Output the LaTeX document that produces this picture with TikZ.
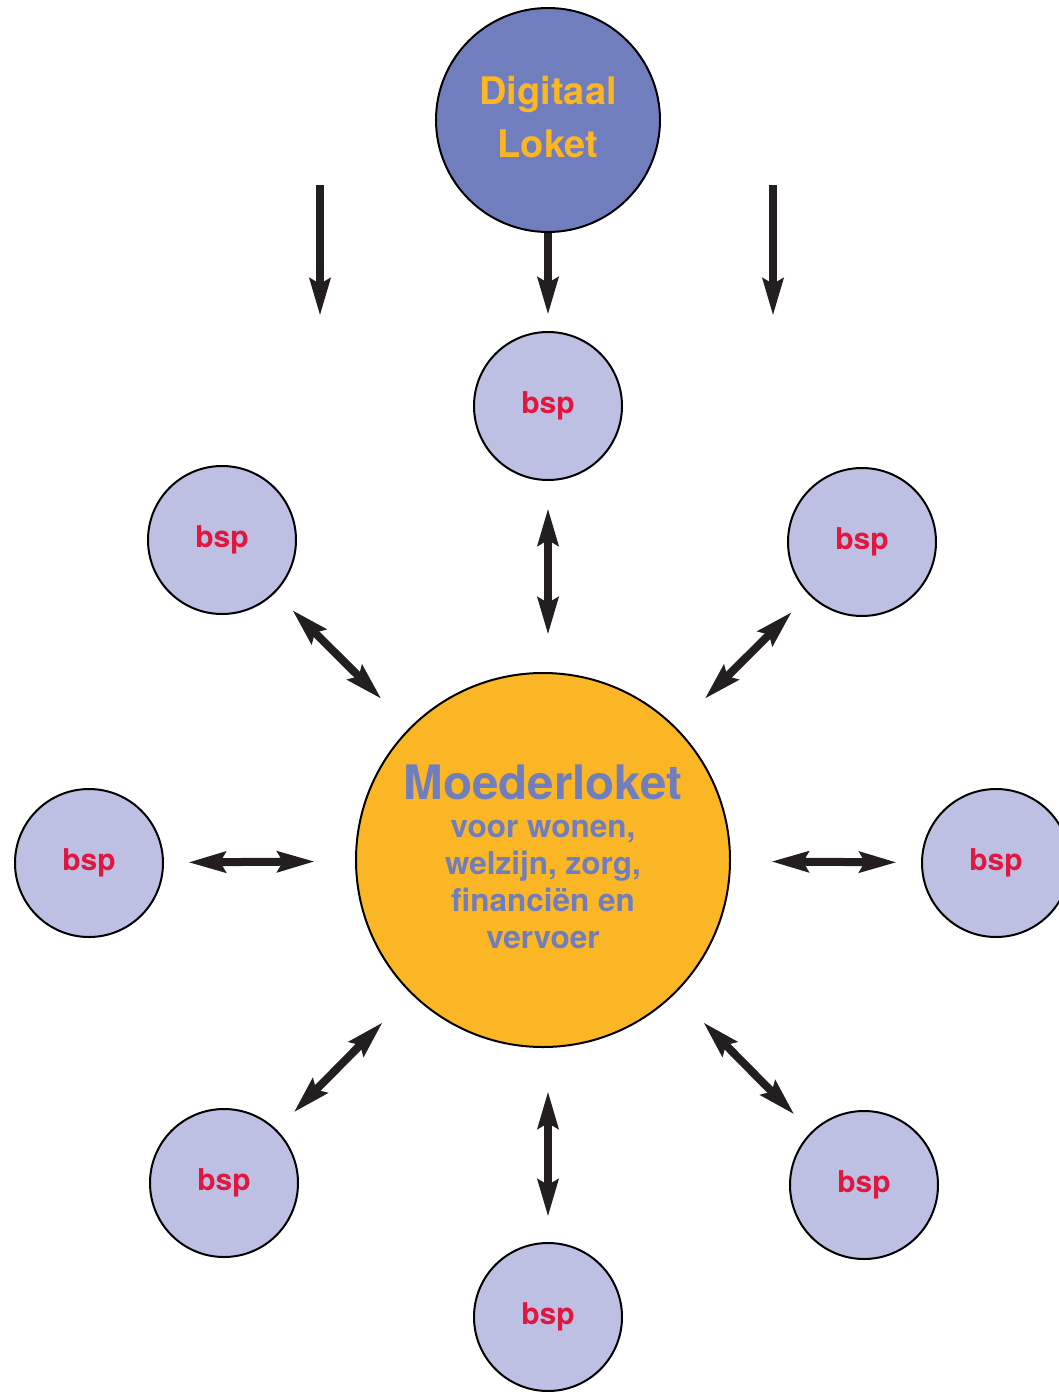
\documentclass[tikz,border=0pt]{standalone}
\usepackage{fontspec}
\setmainfont{TeX Gyre Heros}
\usepackage{xcolor}
\usepackage{tikz}
\usetikzlibrary{arrows.meta,positioning}

\definecolor{loketblauw}{HTML}{717EBD}
\definecolor{lichtblauw}{HTML}{BDC0E2}
\definecolor{oranje}{HTML}{FBB626}
\definecolor{rood}{HTML}{E0173F}
\definecolor{pijl}{HTML}{231F20}

\tikzset{
  bspnode/.style={circle,draw=black,line width=2pt,fill=lichtblauw,minimum size=148pt,inner sep=0pt,
    text=rood,font=\fontsize{30}{34}\selectfont\bfseries},
  pijlkop/.style={line width=8pt,draw=pijl},
  enkel/.style={pijlkop,-{Stealth[length=37pt,width=20pt,inset=5pt]}},
  dubbel/.style={pijlkop,{Stealth[length=37pt,width=20pt,inset=5pt]}-{Stealth[length=37pt,width=20pt,inset=5pt]},
    shorten <=24pt,shorten >=40pt}
}

\begin{document}
\begin{tikzpicture}[x=1pt,y=-1pt]
\useasboundingbox (0,0) rectangle (1059,1392);
% centrale loketten
\node[circle,draw=black,line width=2pt,fill=loketblauw,minimum size=224pt,inner sep=0pt,
  text=oranje,align=center,font=\fontsize{38}{53}\selectfont\bfseries] (digitaal) at (548,120)
  {Digitaal\\Loket\rule[-6pt]{0pt}{6pt}};
\node[circle,draw=black,line width=2pt,fill=oranje,minimum size=374pt,inner sep=0pt,
  text=loketblauw,align=center,font=\fontsize{31.5}{37}\selectfont\bfseries] (moeder) at (543,860)
  {\raisebox{-5pt}[24pt][0pt]{\fontsize{47.5}{50}\selectfont Moederloket}\\[6pt]voor wonen,\\welzijn, zorg,\\financiën en\\vervoer};
% bsp
\node[bspnode] (boven) at (548,406) {bsp};
\node[bspnode] (linksboven) at (222,540) {bsp};
\node[bspnode] (rechtsboven) at (862,542) {bsp};
\node[bspnode] (links) at (89,863) {bsp};
\node[bspnode] (rechts) at (996,863) {bsp};
\node[bspnode] (linksonder) at (224,1183) {bsp};
\node[bspnode] (rechtsonder) at (864,1185) {bsp};
\node[bspnode] (onder) at (548,1317) {bsp};
% pijlen
\coordinate (lstart) at (320,185);
\coordinate (leind) at (320,316);
\coordinate (rstart) at (773,185);
\coordinate (reind) at (773,316);
\draw[enkel] (lstart) -- (leind);
\draw[enkel] (rstart) -- (reind);
\draw[enkel,shorten >=16pt] (digitaal) -- (boven);
\draw[dubbel,shorten <=27pt,shorten >=37pt] (boven.south) -- (boven |- moeder.north);
\draw[dubbel] (linksboven) -- (moeder);
\draw[dubbel] (rechtsboven) -- (moeder);
\draw[dubbel] (links) -- (moeder);
\draw[dubbel] (rechts) -- (moeder);
\draw[dubbel] (linksonder) -- (moeder);
\draw[dubbel] (rechtsonder) -- (moeder);
\draw[dubbel,shorten <=25pt,shorten >=43pt] (onder.north) -- (onder |- moeder.south);
\end{tikzpicture}
\end{document}
